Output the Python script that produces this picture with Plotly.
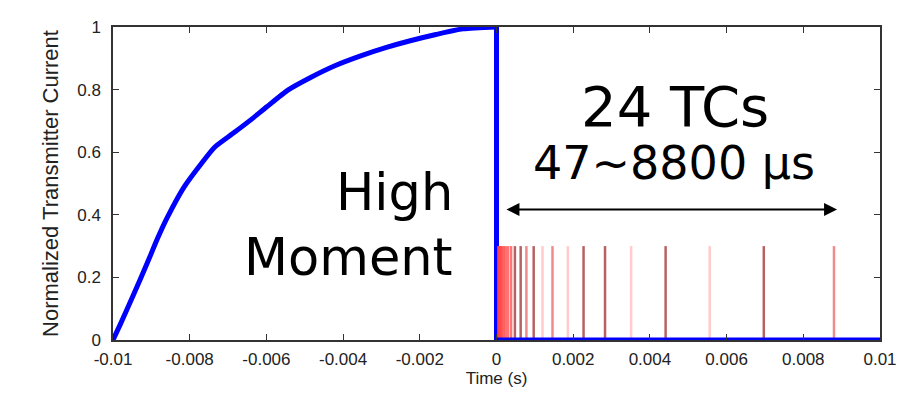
import plotly.graph_objects as go

# --- data ---
ramp_time = [-0.01, -0.00981, -0.00946, -0.00911, -0.00884, -0.00859, -0.00814,
             -0.00772, -0.00735, -0.00685, -0.00639, -0.00599, -0.00543, -0.00486,
             -0.0042, -0.00356, -0.00289, -0.00225, -0.00158, -0.00087, 0.0]
ramp_current = [0.0, 0.05, 0.146, 0.245, 0.324, 0.39, 0.49,
                0.56, 0.616, 0.662, 0.705, 0.745, 0.799, 0.838,
                0.877, 0.907, 0.934, 0.956, 0.976, 0.994, 1.0]
off_time = [0.0, 0.0, 0.01]
off_current = [1.0, 0.0, 0.0]

gate_times_us = [47, 60, 75, 95, 120, 150, 190, 240, 300, 380,
                 480, 630, 780, 970, 1200, 1460, 1860, 2270, 2830, 3510,
                 4410, 5560, 6970, 8800]
gate_height = 0.3

x_ticks = [-0.01, -0.008, -0.006, -0.004, -0.002, 0, 0.002, 0.004, 0.006, 0.008, 0.01]
x_tick_labels = ["-0.01", "-0.008", "-0.006", "-0.004", "-0.002", "0",
                 "0.002", "0.004", "0.006", "0.008", "0.01"]
y_ticks = [0, 0.2, 0.4, 0.6, 0.8, 1]
y_tick_labels = ["0", "0.2", "0.4", "0.6", "0.8", "1"]

# --- styles ---
DARK = "rgba(170,70,70,0.85)"
MED = "rgba(235,110,110,0.8)"
LIGHT = "rgba(255,190,190,0.8)"
BRIGHT = "rgba(255,70,70,0.75)"
gate_colors = [BRIGHT] * 10 + [DARK, DARK, MED, DARK, LIGHT, MED, LIGHT, DARK,
                               DARK, LIGHT, DARK, LIGHT, DARK, MED]
BLUE = "rgb(0,0,255)"

fig = go.Figure()

fig.add_trace(go.Scatter(x=ramp_time, y=ramp_current,
                         mode="lines", line=dict(color=BLUE, width=5, shape="spline",
                                                 smoothing=0.6),
                         cliponaxis=False, showlegend=False, hoverinfo="skip"))
fig.add_trace(go.Scatter(x=off_time[:2], y=off_current[:2],
                         mode="lines", line=dict(color=BLUE, width=5),
                         cliponaxis=False, showlegend=False, hoverinfo="skip"))

for t_us, c in zip(gate_times_us, gate_colors):
    t = t_us * 1e-6
    fig.add_trace(go.Scatter(x=[t, t], y=[0, gate_height], mode="lines",
                             line=dict(color=c, width=2.5), showlegend=False,
                             hoverinfo="skip"))

fig.add_trace(go.Scatter(x=off_time[1:], y=off_current[1:], mode="lines",
                         line=dict(color=BLUE, width=5), cliponaxis=False,
                         showlegend=False, hoverinfo="skip"))

ann_font = "DejaVu Sans, Verdana, sans-serif"
fig.add_annotation(x=0.00466, y=0.745, text="24 TCs", showarrow=False,
                   font=dict(family=ann_font, size=56, color="black"))
fig.add_annotation(x=0.00463, y=0.565, text="47~8800 µs", showarrow=False,
                   font=dict(family=ann_font, size=46, color="black"))
fig.add_annotation(x=-0.00108, y=0.47, text="High", showarrow=False, xanchor="right",
                   font=dict(family=ann_font, size=51, color="black"))
fig.add_annotation(x=-0.00108, y=0.265, text="Moment", showarrow=False, xanchor="right",
                   font=dict(family=ann_font, size=51, color="black"))
fig.add_annotation(x=0.00888, y=0.417, ax=0.00022, ay=0.417, axref="x", ayref="y",
                   text="", showarrow=True, arrowhead=2, startarrowhead=2,
                   arrowside="end+start", arrowwidth=2, arrowsize=1.3,
                   arrowcolor="black", standoff=0, startstandoff=0)

x_tick_font = dict(family="Liberation Sans, Arial, sans-serif", size=17, color="#222")
y_tick_font = dict(family="Liberation Sans, Arial, sans-serif", size=17, color="#222")
fig.update_layout(
    width=911, height=395,
    margin=dict(l=105, r=39, t=10, b=63),
    paper_bgcolor="white", plot_bgcolor="white",
    xaxis=dict(range=[-0.01, 0.01], tickvals=x_ticks, ticktext=x_tick_labels,
               showline=True, mirror="ticks", linecolor="#333", linewidth=1.5,
               ticks="inside", ticklen=6, tickcolor="#333", showgrid=False,
               zeroline=False, tickfont=x_tick_font, ticklabelstandoff=3,
               title=dict(text="Time (s)", font=x_tick_font, standoff=4)),
    yaxis=dict(range=[0, 1], tickvals=y_ticks, ticktext=y_tick_labels,
               showline=True, mirror="ticks", linecolor="#333", linewidth=1.5,
               ticks="inside", ticklen=6, tickcolor="#333", showgrid=False,
               zeroline=False, tickfont=y_tick_font, ticklabelstandoff=7,
               title=dict(text="Normalized Transmitter Current",
                          font=dict(family="Liberation Sans, Arial, sans-serif",
                                    size=22, color="#222"), standoff=13)),
)

fig.write_html("out.html")
